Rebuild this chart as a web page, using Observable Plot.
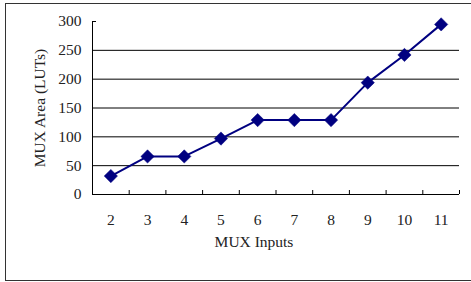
<!DOCTYPE html>
<html>
<head>
<meta charset="utf-8">
<script src="https://cdn.jsdelivr.net/npm/d3@7"></script>
<script src="https://cdn.jsdelivr.net/npm/@observablehq/plot@0.6"></script>
<style>
  html, body { margin: 0; padding: 0; background: #fff; }
  #wrap { position: relative; width: 471px; height: 282px; overflow: hidden; }
  #border { position: absolute; left: 5px; top: 3px; width: 520px; height: 276px; border: 1.5px solid #333; pointer-events: none; }
</style>
</head>
<body>
<div id="wrap"><div id="border"></div></div>
<script>
const categories = [2, 3, 4, 5, 6, 7, 8, 9, 10, 11];
const areas = [32, 66, 66, 97, 129, 129, 129, 194, 242, 295];
const yTicks = [0, 50, 100, 150, 200, 250, 300];
const gridValues = [50, 100, 150, 200, 250];
const xTitle = "MUX Inputs";
const yTitle = "MUX Area (LUTs)";

const bounds = categories.map(c => c - 0.5).concat([categories[categories.length - 1] + 0.5]);
const data = categories.map((c, i) => ({x: c, y: areas[i]}));
const font = "'Liberation Serif', 'DejaVu Serif', serif";
const fs = 15.5;
const ink = "#222";

const chart = Plot.plot({
  width: 471,
  height: 282,
  marginLeft: 92,
  marginRight: 12,
  marginTop: 21,
  marginBottom: 88,
  style: {fontFamily: font, fontSize: fs + "px", background: "transparent", color: ink},
  x: {type: "linear", domain: [bounds[0], bounds[bounds.length - 1]]},
  y: {domain: [0, 300]},
  marks: [
    Plot.ruleY(gridValues, {stroke: "#000", strokeWidth: 1}),
    Plot.ruleX([bounds[0]], {stroke: "#000", strokeWidth: 1}),
    Plot.ruleY([0], {stroke: "#000", strokeWidth: 1}),
    Plot.tickX(bounds, {x: d => d, stroke: "#000", insetTop: 169}),
    Plot.tickY([300], {y: d => d, stroke: "#000", insetRight: 363}),
    Plot.axisY({ticks: yTicks, tickSize: 0, tickPadding: 11, label: null, fontSize: fs, fontFamily: font, fill: ink}),
    Plot.axisX({ticks: categories, tickSize: 0, tickPadding: 19, label: null, tickFormat: d => String(d), fontSize: fs, fontFamily: font, fill: ink}),
    Plot.line(data, {x: "x", y: "y", stroke: "#000080", strokeWidth: 2}),
    Plot.dot(data, {x: "x", y: "y", symbol: "diamond2", r: 6, fill: "#000080", stroke: "#000080", strokeWidth: 0.5}),
    Plot.text([xTitle], {text: d => d, frameAnchor: "bottom", textAnchor: "middle", dx: -22, dy: 52, fontSize: fs, fontFamily: font, fill: ink, letterSpacing: 0.5}),
    Plot.text([yTitle], {text: d => d, frameAnchor: "left", textAnchor: "middle", dx: -52, rotate: -90, fontSize: fs, fontFamily: font, fill: ink, letterSpacing: 0.5})
  ]
});
document.getElementById("wrap").appendChild(chart);
</script>
</body>
</html>
